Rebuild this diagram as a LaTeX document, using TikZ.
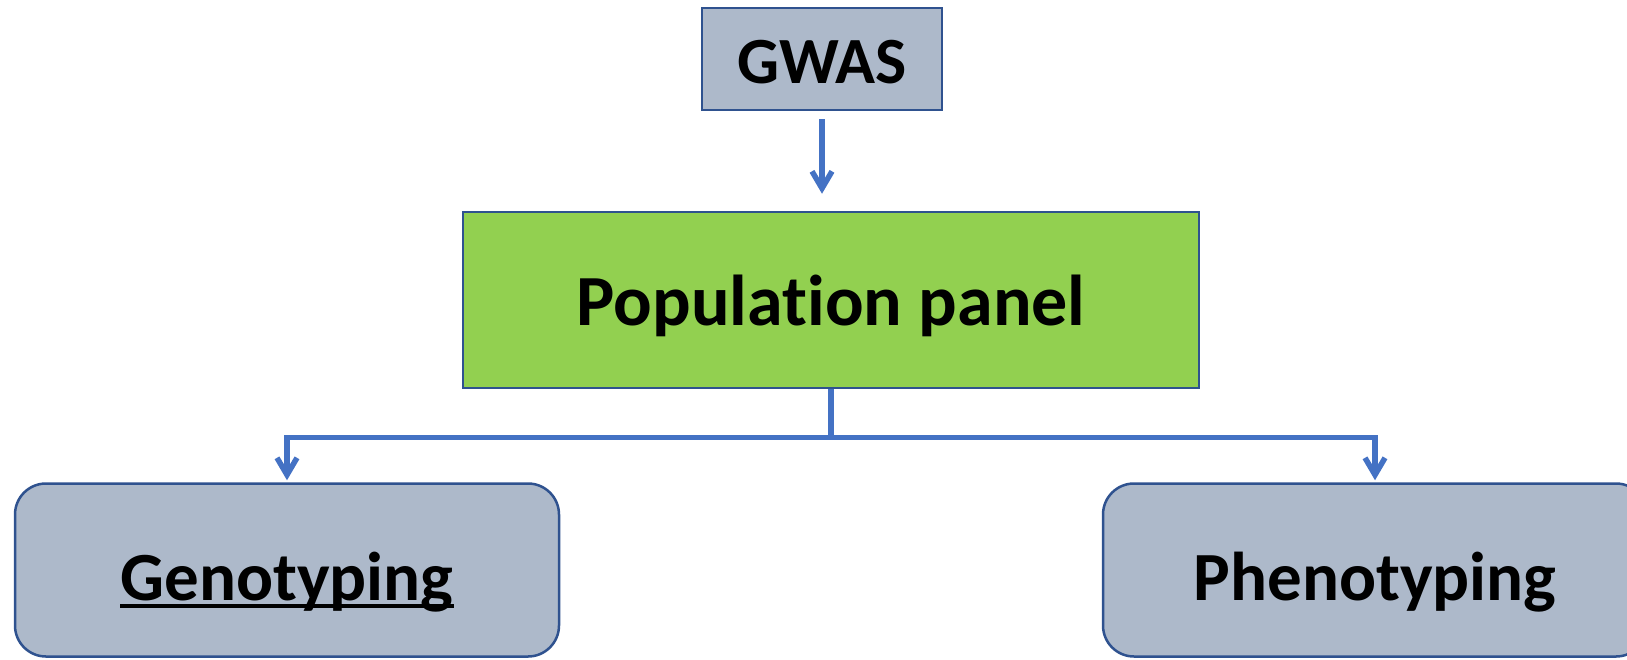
\documentclass[tikz,border=0pt]{standalone}
\usepackage{fontspec}
\setmainfont{Carlito}[Ligatures=NoCommon]
\usetikzlibrary{arrows.meta}
\definecolor{boxgray}{HTML}{ADB9CA}
\definecolor{boxgreen}{HTML}{92D050}
\definecolor{edgeblue}{HTML}{2F528F}
\definecolor{linkblue}{HTML}{4472C4}
\newcommand{\ulword}[1]{\setbox0\hbox{#1}\rlap{\rule[-7.5pt]{\wd0}{3.5pt}}\box0}
\tikzstyle{stage}=[draw=edgeblue, line width=2.5pt, fill=boxgray,
    text centered, text depth=10pt, text height=58pt,
    font=\fontsize{66}{70}\selectfont\bfseries]
\tikzstyle{panel}=[stage, fill=boxgreen, text height=60pt,
    font=\fontsize{72}{80}\selectfont\bfseries]
\tikzstyle{task}=[stage, rounded corners=31pt, text height=70pt,
    font=\fontsize{69}{80}\selectfont\bfseries]
\tikzstyle{link}=[draw=linkblue, line width=5.5pt,
    -{Straight Barb[length=17pt,width=20pt,line width=5.5pt]}]

\begin{document}
\begin{tikzpicture}[x=1pt,y=-1pt]
  \useasboundingbox (0,0) rectangle (1627,659);
  \node at (822,59) (gwas)[stage, minimum width=240pt, minimum height=102pt] {GWAS};
  \node at (831,300) (pop)[panel, minimum width=736pt, minimum height=176pt] {Population panel};
  \node at (287,570) (geno)[task, minimum width=544pt, minimum height=173pt] {\ulword{Genotyping}};
  \node at (1375,570) (pheno)[task, minimum width=544pt, minimum height=173pt] {Phenotyping};

  \draw[link, shorten <=8pt, shorten >=17pt] (gwas.south) -- (gwas.south |- pop.north);
  \draw[draw=linkblue, line width=5.5pt] (pop.south) -- ++(0,48) coordinate (fork);
  \draw[link, shorten >=2pt] (fork) -| (geno.north);
  \draw[link, shorten >=2pt] (fork) -| (pheno.north);
\end{tikzpicture}
\end{document}
